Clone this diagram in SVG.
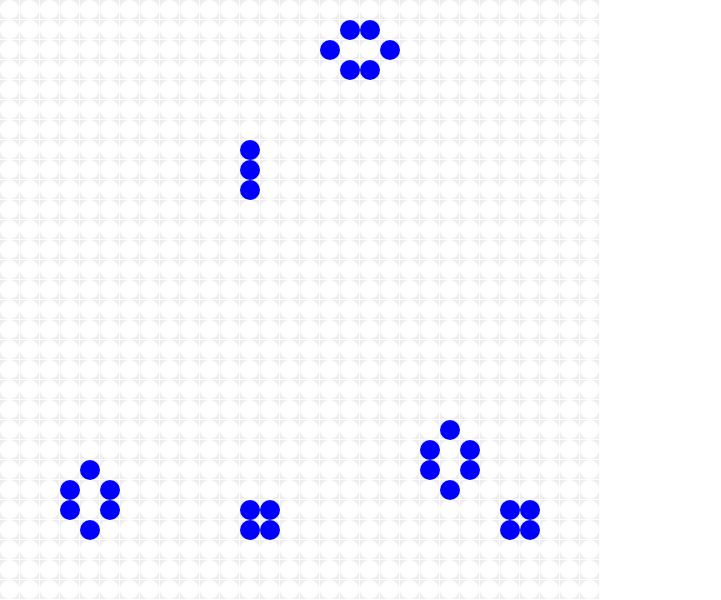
<svg xmlns="http://www.w3.org/2000/svg" width="721" height="600" viewBox="0 0 721 600">
  <defs>
    <pattern id="cell" width="20" height="20" patternUnits="userSpaceOnUse">
      <rect width="20" height="20" fill="#ffffff"/>
      <rect width="19" height="19" fill="#eeeeee"/>
      <circle cx="9.5" cy="9.5" r="9.6" fill="#ffffff"/>
    </pattern>
  </defs>
  <style>.live{fill:#0000ff}</style>
  <rect width="721" height="600" fill="#ffffff"/>
  <rect width="600" height="600" fill="url(#cell)"/>
  <g id="beehive-top">
    <circle class="live" cx="350" cy="30" r="10"/>
    <circle class="live" cx="370" cy="30" r="10"/>
    <circle class="live" cx="330" cy="50" r="10"/>
    <circle class="live" cx="390" cy="50" r="10"/>
    <circle class="live" cx="350" cy="70" r="10"/>
    <circle class="live" cx="370" cy="70" r="10"/>
  </g>
  <g id="blinker">
    <circle class="live" cx="250" cy="150" r="10"/>
    <circle class="live" cx="250" cy="170" r="10"/>
    <circle class="live" cx="250" cy="190" r="10"/>
  </g>
  <g id="beehive-left">
    <circle class="live" cx="90" cy="470" r="10"/>
    <circle class="live" cx="70" cy="490" r="10"/>
    <circle class="live" cx="110" cy="490" r="10"/>
    <circle class="live" cx="70" cy="510" r="10"/>
    <circle class="live" cx="110" cy="510" r="10"/>
    <circle class="live" cx="90" cy="530" r="10"/>
  </g>
  <g id="block-mid">
    <circle class="live" cx="250" cy="510" r="10"/>
    <circle class="live" cx="270" cy="510" r="10"/>
    <circle class="live" cx="250" cy="530" r="10"/>
    <circle class="live" cx="270" cy="530" r="10"/>
  </g>
  <g id="beehive-right">
    <circle class="live" cx="450" cy="430" r="10"/>
    <circle class="live" cx="430" cy="450" r="10"/>
    <circle class="live" cx="470" cy="450" r="10"/>
    <circle class="live" cx="430" cy="470" r="10"/>
    <circle class="live" cx="470" cy="470" r="10"/>
    <circle class="live" cx="450" cy="490" r="10"/>
  </g>
  <g id="block-right">
    <circle class="live" cx="510" cy="510" r="10"/>
    <circle class="live" cx="530" cy="510" r="10"/>
    <circle class="live" cx="510" cy="530" r="10"/>
    <circle class="live" cx="530" cy="530" r="10"/>
  </g>
</svg>
